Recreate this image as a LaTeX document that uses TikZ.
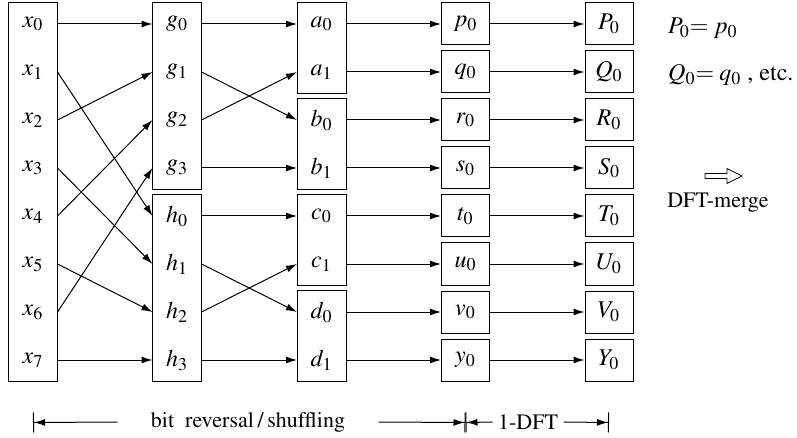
\documentclass[tikz,border=0pt]{standalone}
\usepackage[T1]{fontenc}
\usepackage{mathptmx}
\usetikzlibrary{arrows.meta,fit}

\begin{document}
\begin{tikzpicture}[x=0.5pt, y=-0.5pt, >={Latex[length=5.5pt,width=3.5pt]}, line width=0.5pt,
  font=\fontsize{11}{13}\selectfont,
  cell/.style={minimum width=24pt, minimum height=21pt, inner sep=0pt, font=\fontsize{12}{14}\selectfont},
  box/.style={draw, inner sep=0pt},
  dimtip/.style={-{Latex[length=5.5pt,width=3.5pt,sep=0pt]Bar[width=10pt]}}]
\useasboundingbox (0,0) rectangle (797,438);
% columns
\foreach \i in {0,...,7} \node[cell] (x\i) at (33,{24+48*\i}) {$x_\i$};
\foreach \l/\k [count=\i from 0] in {g/0,g/1,g/2,g/3,h/0,h/1,h/2,h/3} \node[cell] (\l\k) at (177,{24+48*\i}) {$\l_\k$};
\foreach \l/\k [count=\i from 0] in {a/0,a/1,b/0,b/1,c/0,c/1,d/0,d/1} \node[cell] (\l\k) at (321.5,{24+48*\i}) {$\l_\k$};
\foreach \l [count=\i from 0] in {p,q,r,s,t,u,v,y} \node[cell, draw] (\l0) at (465.5,{24+48*\i}) {$\l_0$};
\foreach \l [count=\i from 0] in {P,Q,R,S,T,U,V,Y} \node[cell, draw] (\l0) at (609,{24+48*\i}) {$\l_0$};
\node[box, fit=(x0)(x7)] (xbox) {};
\foreach \s/\t in {g0/g3,h0/h3,a0/a1,b0/b1,c0/c1,d0/d1} \node[box, fit=(\s)(\t)] {};
% connectors
\foreach \s/\t in {x0/g0,x1/h0,x2/g1,x3/h1,x4/g2,x5/h2,x6/g3,x7/h3} \draw[->] (\s.east) -- (\t.west);
\foreach \s/\t in {g0/a0,g1/b0,g2/a1,g3/b1,h0/c0,h1/d0,h2/c1,h3/d1} \draw[->] (\s.east) -- (\t.west);
\foreach \s/\t in {a0/p0,a1/q0,b0/r0,b1/s0,c0/t0,c1/u0,d0/v0,d1/y0} \draw[->] (\s.east) -- (\t.west);
\foreach \s/\t in {p/P,q/Q,r/R,s/S,t/T,u/U,v/V,y/Y} \draw[->] (\s0.east) -- (\t0.west);
% notes on the right
\node[anchor=west, font=\fontsize{12}{14}\selectfont] (peq) at (661,28) {$P_0{=}\;p_0$};
\node[anchor=west, font=\fontsize{12}{14}\selectfont] (qeq) at (661,75) {$Q_0{=}\;q_0$\ ,\ etc.};
\coordinate (merge) at (705,176);
\draw[line width=0.4pt] (merge) ++(0,-2.5) -- ++(22,0) -- ++(0,-5) -- ++(15,7.5) -- ++(-15,7.5) -- ++(0,-5) -- ++(-22,0) -- cycle;
\node (mlab) at (718,203) {DFT-merge};
% spans below
\coordinate (m0) at ([yshift=-20.5pt]x7.south);
\coordinate (m1) at (m0 -| y0);
\coordinate (m2) at (m0 -| Y0);
\node[minimum width=130pt, inner sep=0pt] (shuf) at (248,422) {bit\ \ reversal\,/\,shuffling};
\node[minimum width=35pt, inner sep=0pt] (dft) at (528,422) {1-DFT};
\draw[dimtip] (shuf.west) -- (m0);
\draw[dimtip] (shuf.east) -- (m1);
\draw[dimtip] (dft.west) -- (m1);
\draw[dimtip] (dft.east) -- (m2);
\end{tikzpicture}
\end{document}
